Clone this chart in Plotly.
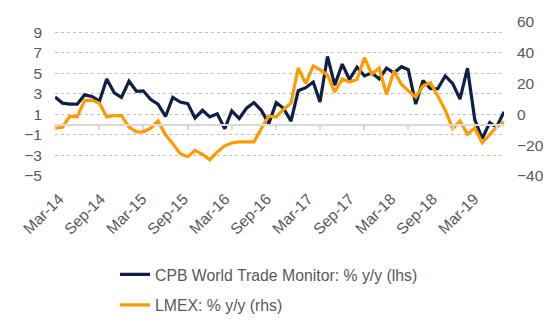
import pandas as pd
import plotly.graph_objects as go

# Monthly data, Mar-2014 .. Apr-2019
start_month = "2014-03-01"
n_months = 62

cpb_wtm = [2.7, 2.1, 2.0, 2.0, 2.9, 2.75, 2.3, 4.45, 3.1, 2.65,
           4.25, 3.25, 3.3, 2.45, 2.0, 0.8, 2.65, 2.2, 2.05, 0.65,
           1.4, 0.75, 1.05, -0.4, 1.35, 0.6, 1.6, 2.15, 1.4, 0.1,
           2.15, 1.6, 0.35, 3.3, 3.6, 4.15, 2.2, 6.65, 3.85, 5.9,
           4.4, 5.6, 4.75, 5.05, 4.45, 5.5, 5.05, 5.65, 5.35, 2.0,
           4.3, 3.5, 3.5, 4.75, 4.0, 2.5, 5.5, 0.5, -1.35, 0.2,
           -0.25, 1.25]

lmex = [-9.0, -8.3, -1.2, -1.6, 8.9, 9.3, 7.3, -1.6, -0.8, -0.8,
        -8.3, -11.3, -11.3, -8.9, -4.2, -13.3, -19.0, -25.5, -27.5, -23.4,
        -25.9, -29.5, -24.4, -20.4, -18.6, -17.8, -17.8, -17.8, -9.3, -1.2,
        -1.6, 3.2, 7.3, 30.1, 20.0, 31.5, 29.1, 25.5, 14.5, 23.0,
        21.0, 22.6, 36.8, 26.1, 30.1, 12.9, 28.1, 19.4, 15.4, 11.3,
        18.6, 20.6, 11.9, 2.8, -9.3, -4.2, -12.9, -8.9, -18.4, -13.3,
        -8.3, -4.8]

x_labels = ["Mar-14", "Sep-14", "Mar-15", "Sep-15", "Mar-16", "Sep-16",
            "Mar-17", "Sep-17", "Mar-18", "Sep-18", "Mar-19"]

name_cpb = "CPB World Trade Monitor: % y/y (lhs)"
name_lmex = "LMEX: % y/y (rhs)"

dates = pd.date_range(start_month, periods=n_months, freq="MS")

NAVY = "#0f1f45"
ORANGE = "#FF9A00"
TXT = "#595959"
FONT = "Liberation Sans, Arial, sans-serif"
FS = 15.5

fig = go.Figure()
fig.add_trace(go.Scatter(x=dates, y=cpb_wtm, mode="lines", name=name_cpb,
                         line=dict(color=NAVY, width=3.2), legendgroup="a",
                         xaxis="x", yaxis="y"))
fig.add_trace(go.Scatter(x=dates, y=lmex, mode="lines", name=name_lmex,
                         line=dict(color=ORANGE, width=3.2), legendgroup="b",
                         xaxis="x", yaxis="y2"))
# carrier for the category label axis (no visible mark)
fig.add_trace(go.Scatter(x=[None], y=[None], xaxis="x2", yaxis="y",
                         showlegend=False, hoverinfo="skip"))

lab_idx = list(range(len(x_labels)))
px_per_lab = 41.5
plot_w = 449
a = -(59 - 55) / px_per_lab
b = a + plot_w / px_per_lab

fig.update_layout(
    width=557, height=334,
    margin=dict(l=55, r=53, t=22, b=147),
    paper_bgcolor="white", plot_bgcolor="white",
    font=dict(family=FONT, size=FS, color=TXT),
    showlegend=True,
    legend=dict(x=(115 - 55) / 449, xanchor="left", y=-0.53, yanchor="top",
                font=dict(size=15.8, color=TXT), tracegroupgap=7,
                bgcolor="rgba(0,0,0,0)"),
    xaxis=dict(type="date", range=[dates[0], dates[-1]],
               anchor="free", position=1 / 3,
               showline=True, linecolor="#d9d9d9", linewidth=1.5,
               ticks="outside", ticklen=5, tickcolor="#d9d9d9", tickwidth=1.5,
               tick0=start_month, dtick="M6",
               showticklabels=False, showgrid=False, zeroline=False),
    xaxis2=dict(overlaying="x", anchor="y", side="bottom",
                range=[a, b], tickmode="array", tickvals=lab_idx,
                ticktext=x_labels, tickangle=-45, ticks="",
                showgrid=False, showline=False, zeroline=False,
                ticklabelstandoff=10,
                tickfont=dict(size=FS, color=TXT)),
    yaxis=dict(range=[-5, 10], tick0=-5, dtick=2,
               showgrid=True, gridcolor="#bfbfbf", griddash="dot", gridwidth=1,
               zeroline=False, showline=False, ticks="",
               ticklabelstandoff=12, tickfont=dict(size=FS, color=TXT)),
    yaxis2=dict(range=[-40, 60], tick0=-40, dtick=20, overlaying="y",
                side="right", showgrid=False, zeroline=False, showline=False,
                ticks="", ticklabelstandoff=12,
                tickfont=dict(size=FS, color=TXT)),
)

fig.write_html("out.html")
